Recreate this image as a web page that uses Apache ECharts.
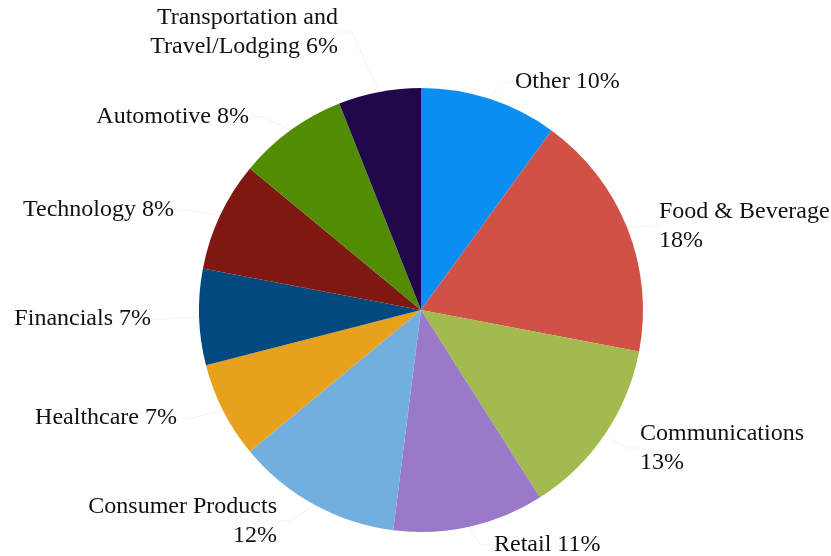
<!DOCTYPE html>
<html>
<head>
<meta charset="utf-8">
<script src="https://cdn.jsdelivr.net/npm/echarts@6/dist/echarts.min.js"></script>
<style>
  html, body { margin: 0; padding: 0; background: #fff; }
  #main { width: 831px; height: 556px; }
</style>
</head>
<body>
<div id="main"></div>
<script>
// sectors, clockwise from 12 o'clock
var categories = ['Other', 'Food & Beverage', 'Communications', 'Retail', 'Consumer Products',
                  'Healthcare', 'Financials', 'Technology', 'Automotive', 'Transportation and Travel/Lodging'];
var shares = [10, 18, 13, 11, 12, 7, 7, 8, 8, 6];
var colors = ['#0a8ef2', '#d05247', '#a3ba4e', '#9979c8', '#70afe0',
              '#e8a11c', '#02497f', '#7e1810', '#528c03', '#21084a'];

// names whose percentage goes on a second line
var wrapped = { 'Food & Beverage': 1, 'Communications': 1, 'Consumer Products': 1 };

// where each label sits (aligned edge x, middle y), same order as categories
var labelSpots = [
    [515, 82, 'left'], [659, 226, 'left'], [640, 448, 'left'], [494, 545, 'left'],
    [277, 521, 'right'], [177, 418, 'right'], [151, 319, 'right'], [174, 210, 'right'],
    [249, 117, 'right'], [338, 32, 'right']
];

var myChart = echarts.init(document.getElementById('main'));

var option = {
    animation: false,
    color: colors,
    series: [
        {
            type: 'pie',
            center: [421, 310],
            radius: 222,
            startAngle: 90,
            clockwise: true,
            data: categories.map(function (c, i) { return { name: c, value: shares[i] }; }),
            label: {
                show: true,
                position: 'outside',
                overflow: 'none',
                fontFamily: 'Liberation Serif',
                fontSize: 24,
                lineHeight: 29,
                color: '#111',
                formatter: function (p) {
                    var n = p.name;
                    if (n === 'Transportation and Travel/Lodging') {
                        return 'Transportation and\nTravel/Lodging ' + p.value + '%';
                    }
                    return n + (wrapped[n] ? '\n' : ' ') + p.value + '%';
                }
            },
            labelLine: {
                show: true,
                length: 12,
                length2: 14,
                lineStyle: { color: '#f2f2f2', width: 1 }
            },
            labelLayout: function (params) {
                var s = labelSpots[params.dataIndex];
                return { x: s[0], y: s[1], align: s[2], verticalAlign: 'middle' };
            },
            itemStyle: { borderWidth: 0 }
        }
    ]
};

myChart.setOption(option);
</script>
</body>
</html>
